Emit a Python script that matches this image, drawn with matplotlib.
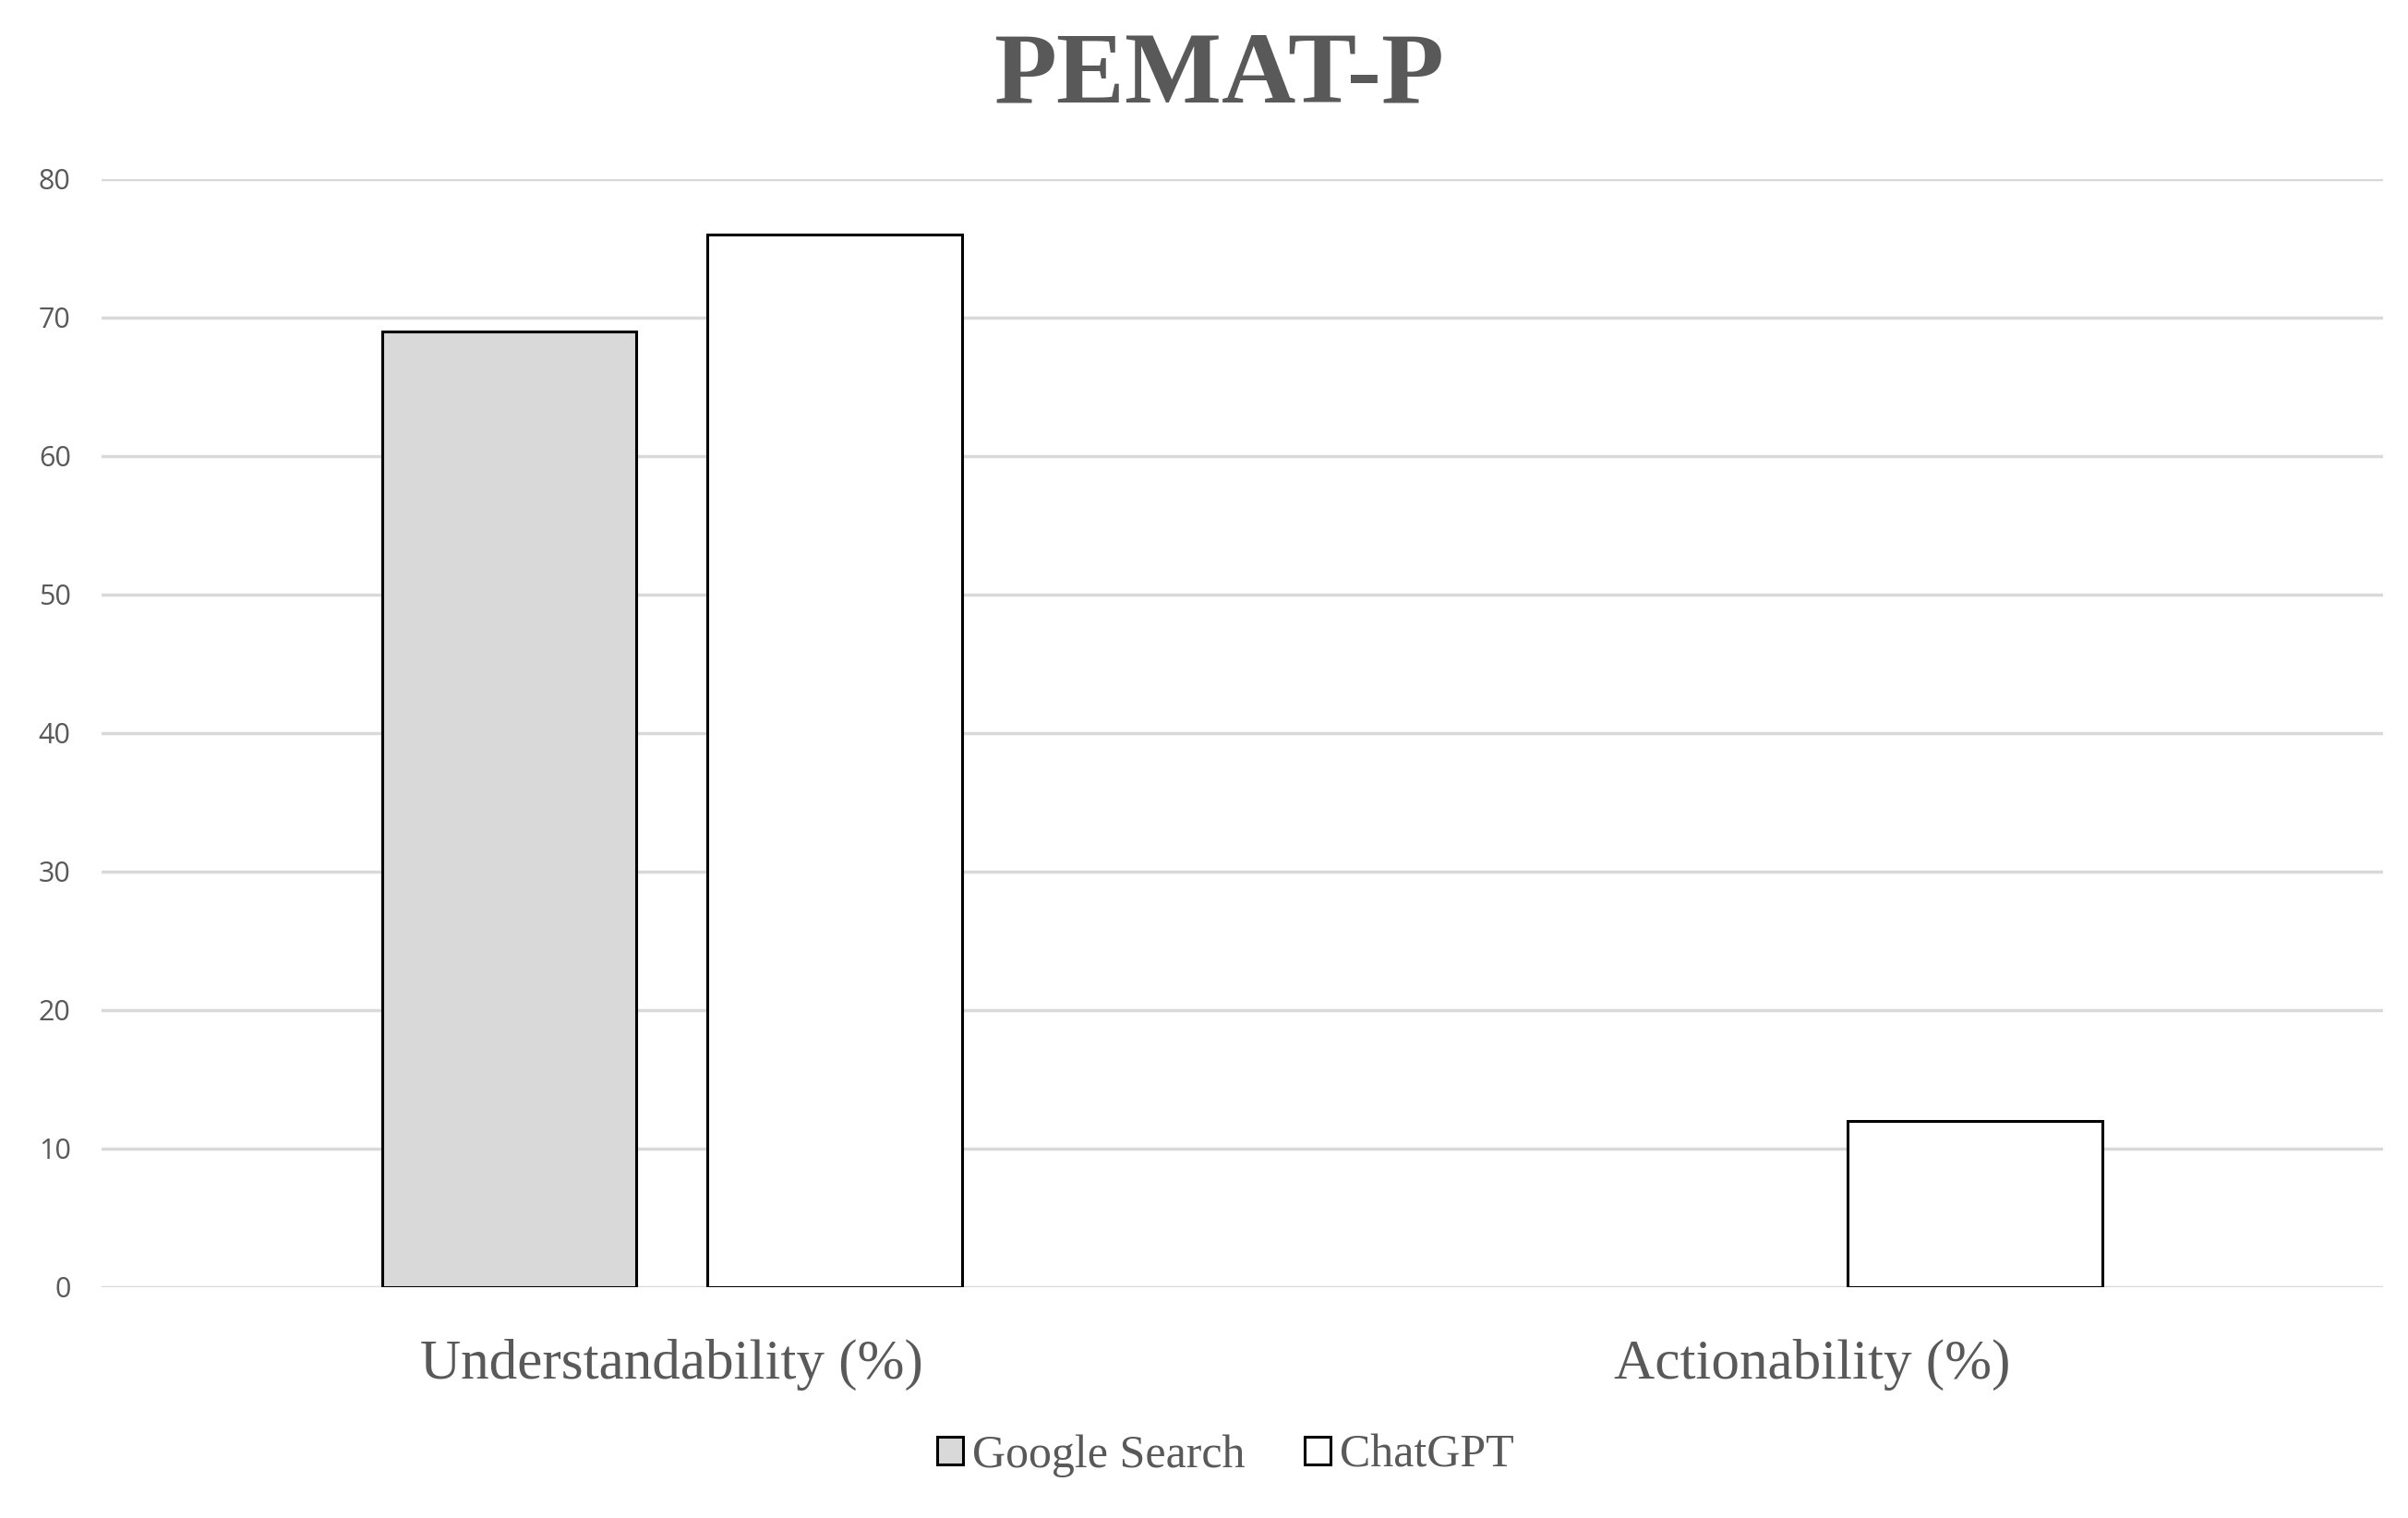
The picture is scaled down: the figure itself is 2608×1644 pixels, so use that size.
import matplotlib
matplotlib.use("Agg")
import matplotlib.pyplot as plt
from matplotlib.patches import Patch
import numpy as np

categories = ["Understandability (%)", "Actionability (%)"]
series_names = ["Google Search", "ChatGPT"]
google_values = [69, 0]
chatgpt_values = [76, 12]
y_ticks = [0, 10, 20, 30, 40, 50, 60, 70, 80]

fig = plt.figure(figsize=(26.08, 16.44), dpi=100)
ax = fig.add_axes([0.0422, 0.1521, 0.9474, 0.7299])

x = np.arange(len(categories))
w = 0.223
off = 0.1425
serif = ["Liberation Serif", "DejaVu Serif"]
gray = "#595959"

def edges(vals):
    return ["black" if v != 0 else "none" for v in vals]

ax.bar(x - off, google_values, w, color="#d9d9d9", edgecolor=edges(google_values), linewidth=2.2,
       label=series_names[0], zorder=3)
ax.bar(x + off, chatgpt_values, w, color="white", edgecolor=edges(chatgpt_values), linewidth=2.2,
       label=series_names[1], zorder=3)

ax.set_xlim(-0.5, 1.5)
ax.set_ylim(0, 80)
ax.set_yticks(y_ticks)
ax.yaxis.grid(True, color="#d9d9d9", linewidth=2.5, zorder=0)
ax.set_axisbelow(True)
for s in ax.spines.values():
    s.set_visible(False)
ax.tick_params(axis="y", length=0, pad=24, labelsize=22, labelcolor=gray)
ax.tick_params(axis="x", length=0, pad=40)
ax.set_xticks(x)
ax.set_xticklabels(categories, fontsize=44, color=gray, family=serif)
for lab in ax.get_yticklabels():
    lab.set_family(["Open Sans", "DejaVu Sans"])

fig.text(0.506, 0.933, "PEMAT-P", ha="center", va="baseline", fontsize=80,
         fontweight="bold", color=gray, family=serif)

handles = [Patch(facecolor="#d9d9d9", edgecolor="black", linewidth=2.2),
           Patch(facecolor="white", edgecolor="black", linewidth=2.2)]
leg = fig.legend(handles, series_names, loc="center", bbox_to_anchor=(0.509, 0.041), ncol=2,
                 frameon=False, prop={"family": serif, "size": 36}, handlelength=0.55,
                 handleheight=0.55, handletextpad=0.2, columnspacing=1.3)
for t in leg.get_texts():
    t.set_color(gray)

fig.savefig("out.png", dpi=100)
